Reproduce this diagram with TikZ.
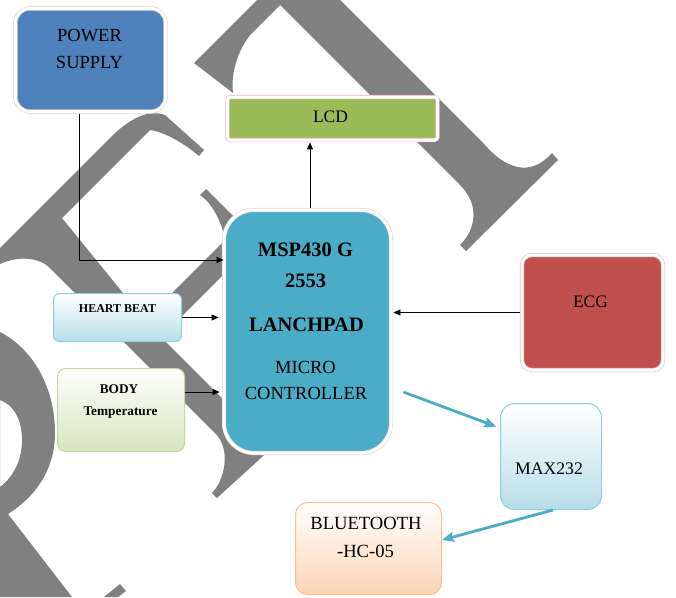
\documentclass[tikz,border=0pt]{standalone}
\usepackage{fontspec}
\setmainfont{Liberation Serif}
\usetikzlibrary{arrows.meta}
\definecolor{wm}{HTML}{808080}
\definecolor{pwblue}{HTML}{4F81BD}
\definecolor{lcdgreen}{HTML}{9BBB59}
\definecolor{mspblue}{HTML}{4BACC6}
\definecolor{ecgred}{HTML}{C0504D}
\definecolor{hbfill}{HTML}{B7DDE8}
\definecolor{hbborder}{HTML}{92CDDC}
\definecolor{bodyfill}{HTML}{D7E4BD}
\definecolor{bodyborder}{HTML}{C3D69B}
\definecolor{btfill}{HTML}{FBD4B4}
\definecolor{btborder}{HTML}{FAC090}
\definecolor{pinkframe}{HTML}{E6B9B8}
\newcommand\myfs[1]{\fontsize{#1}{#1}\selectfont}
\tikzset{
  boxframe/.style={rectangle, draw=#1, double=white, double distance=3pt, line width=0.6pt, outer sep=2.4pt},
  gradbox/.style={rectangle, draw=#1, line width=1pt, top color=white},
  arr/.style={draw=black, line width=0.8pt, -{Triangle[length=7pt,width=6pt]}},
  barr/.style={draw=mspblue, line width=2.8pt, -{Stealth[length=12pt,width=10pt,inset=2pt]}},
  lbl/.style={inner sep=0pt, text=black}
}
\begin{document}
\begin{tikzpicture}[x=1pt,y=-1pt]
\useasboundingbox (0,0) rectangle (676,597);
% watermark
\fill[wm] (194,63) -- (257,0) -- (340,0) -- (485,145) .. controls (505,168) and (530,178) .. (552,153) -- (558,160) -- (466,251) -- (460,245) .. controls (476,229) and (480,205) .. (460,185) -- (280,5) -- (253,32) .. controls (241,44) and (230,70) .. (233,93) -- cycle;
\fill[wm] (0,248) -- (110,138) .. controls (125,123) and (145,108) .. (165,115) -- (204,150) -- (199,156) .. controls (185,144) and (165,132) .. (150,130) -- (62,218) -- (145,320) -- (242,223) -- (267,231) -- (161,337) -- (250,426) -- (280,439) -- (262,457) -- (217,498) -- (212,493) .. controls (224,481) and (232,450) .. (215,433) -- (50,268) .. controls (40,258) and (20,255) .. (0,264) -- cycle;
\fill[wm] (206,189) -- (240,223) -- (225,240) .. controls (222,222) and (212,203) .. (200,195) -- cycle;
\fill[wm, even odd rule] (0,332) .. controls (35,350) and (55,390) .. (55,433) .. controls (55,470) and (35,497) .. (8,514) -- (72,597) -- (0,597) -- cycle
  (0,400) .. controls (14,405) and (22,420) .. (22,440) .. controls (22,462) and (12,478) .. (0,487) -- cycle;
\fill[wm] (104,597) -- (120,584) -- (126,591) -- (118,597) -- cycle;
% boxes
\node[boxframe=black!18, fill=pwblue, rounded corners=14pt, minimum width=150pt, minimum height=103pt] (power) at (90.5,60) {};
\node[boxframe=pinkframe, fill=lcdgreen, rounded corners=3pt, minimum width=210pt, minimum height=43pt] (lcd) at (332.5,118.5) {};
\node[boxframe=black!15, fill=mspblue, rounded corners=30pt, minimum width=167pt, minimum height=243pt] (msp) at (307.5,331.5) {};
\node[boxframe=pinkframe, fill=ecgred, rounded corners=10pt, minimum width=141pt, minimum height=115pt] (ecg) at (592.5,312.5) {};
\node[gradbox=hbborder, bottom color=hbfill, rounded corners=6pt, minimum width=128pt, minimum height=48pt] (heart) at (117.5,317.5) {};
\node[gradbox=bodyborder, bottom color=bodyfill, rounded corners=8pt, minimum width=127pt, minimum height=83pt] (body) at (121,410) {};
\node[gradbox=hbborder, bottom color=hbfill, rounded corners=14pt, minimum width=101pt, minimum height=106pt] (max) at (551,456.5) {};
\node[gradbox=btborder, bottom color=btfill, rounded corners=12pt, minimum width=146pt, minimum height=92pt] (bt) at (368.5,548.5) {};
% labels
\node[lbl, font=\myfs{18.5}] (powerA) at (89.5,35.5) {POWER};
\node[lbl, font=\myfs{18.5}] (powerB) at (89.5,62) {SUPPLY};
\node[lbl, font=\myfs{17.5}] (lcdT) at (330.5,117) {LCD};
\node[lbl, font=\myfs{20.5}\bfseries] (mspA) at (305.5,250) {MSP430 G};
\node[lbl, font=\myfs{20.5}\bfseries] (mspB) at (305.5,280.5) {2553};
\node[lbl, font=\myfs{20.5}\bfseries] (mspC) at (306.5,324.5) {LANCHPAD};
\node[lbl, font=\myfs{18.5}] (mspD) at (305.5,367.5) {MICRO};
\node[lbl, font=\myfs{18.5}] (mspE) at (306,393.5) {CONTROLLER};
\node[lbl, font=\myfs{17.5}] (ecgT) at (590.5,301.5) {ECG};
\node[lbl, font=\myfs{12}\bfseries] (heartT) at (117.5,309) {HEART BEAT};
\node[lbl, font=\myfs{13.3}\bfseries] (bodyA) at (119,389) {BODY};
\node[lbl, font=\myfs{13.3}\bfseries] (bodyB) at (120.5,413) {Temperature};
\node[lbl, font=\myfs{17.7}] (maxT) at (549,468.5) {MAX232};
\node[lbl, font=\myfs{18.6}] (btA) at (366,523.5) {BLUETOOTH};
\node[lbl, font=\myfs{18.6}] (btB) at (365.5,551.5) {-HC-05};
% connectors
\draw[arr, shorten >=-2pt] ([xshift=-11.5pt]power.south) |- ([yshift=71.5pt]msp.west);
\draw[arr] ([xshift=2.5pt]msp.north) -- ([xshift=2.5pt]msp.north |- lcd.south);
\draw[arr, shorten >=3pt] (heart.east) -- (heart.east -| msp.west);
\draw[arr, shorten >=2pt] ([yshift=18pt]body.east) -- ([yshift=18pt]body.east -| msp.west);
\draw[arr] (ecg.west) -- (ecg.west -| msp.east);
\draw[barr, shorten >=4pt] ([shift={(10pt,-60.5pt)}]msp.east) -- ([yshift=28.5pt]max.west);
\draw[barr] ([xshift=2pt]max.south) -- ([yshift=8.5pt]bt.east);
\end{tikzpicture}
\end{document}
